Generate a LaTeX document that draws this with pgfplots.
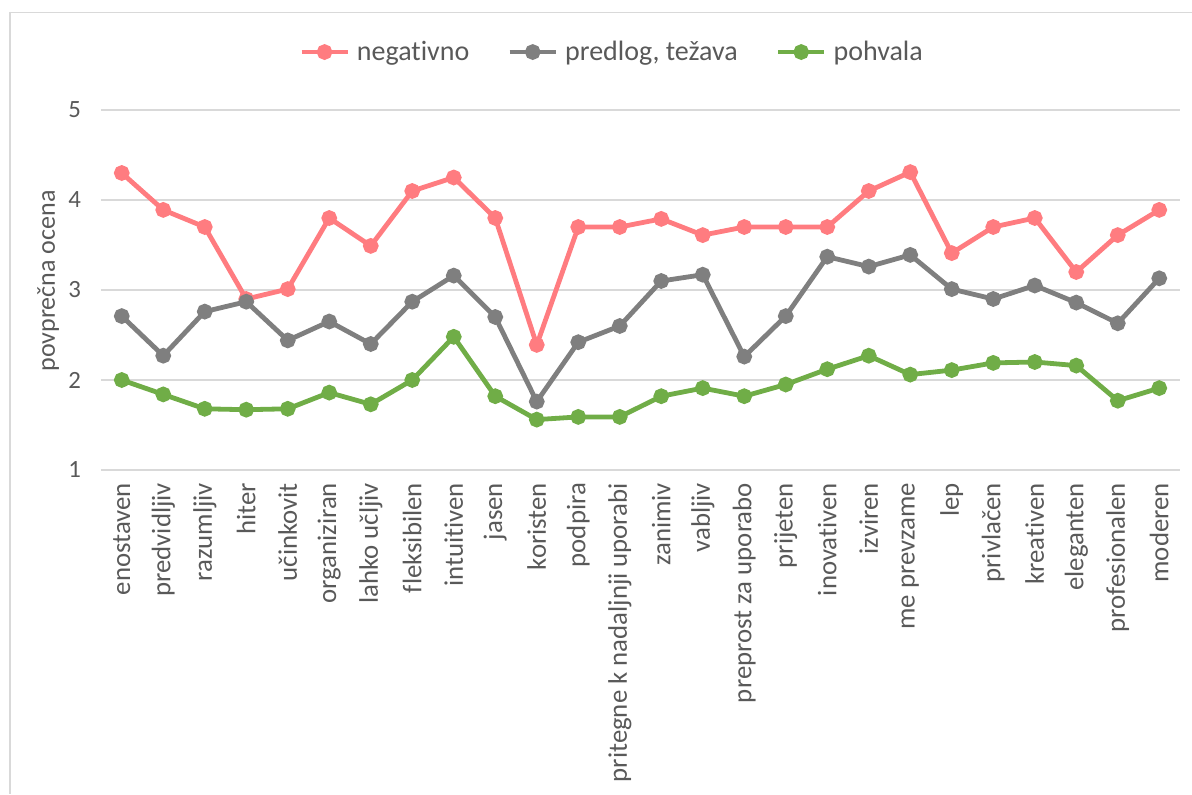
\documentclass[border=0pt]{standalone}
\usepackage{pgfplots}
\pgfplotsset{compat=1.18}
\usepackage{pgfplotstable}
\usepackage{fontspec}
\setmainfont{Carlito}[Ligatures={NoCommon}]
\definecolor{neg}{HTML}{FF7C80}
\definecolor{pred}{HTML}{7F7F7F}
\definecolor{poh}{HTML}{70AD47}
\definecolor{txt}{HTML}{595959}
\definecolor{grd}{HTML}{D9D9D9}
\pgfplotstableread{
idx neg pred poh
0 4.30 2.71 2.00
1 3.89 2.27 1.84
2 3.70 2.76 1.68
3 2.90 2.87 1.67
4 3.01 2.44 1.68
5 3.80 2.65 1.86
6 3.49 2.40 1.73
7 4.10 2.87 2.00
8 4.25 3.16 2.48
9 3.80 2.70 1.82
10 2.39 1.76 1.56
11 3.70 2.42 1.59
12 3.70 2.60 1.59
13 3.79 3.10 1.82
14 3.61 3.17 1.91
15 3.70 2.26 1.82
16 3.70 2.71 1.95
17 3.70 3.37 2.12
18 4.10 3.26 2.27
19 4.31 3.39 2.06
20 3.41 3.01 2.11
21 3.70 2.90 2.19
22 3.80 3.05 2.20
23 3.20 2.86 2.16
24 3.61 2.63 1.77
25 3.89 3.13 1.91
}\datatable
\begin{document}
\begin{tikzpicture}[x=0.5pt,y=0.5pt]
\path[use as bounding box] (0,0) rectangle (1192,794);
\draw[grd, line width=0.75pt] (9,781.5) -- (1192,781.5);
\draw[grd, line width=0.75pt] (10,782) -- (10,0);
\begin{axis}[
  at={(50.5pt,162pt)}, anchor=south west,
  scale only axis, width=539.5pt, height=180pt,
  xmin=-0.5, xmax=25.5, ymin=1, ymax=5,
  xtick={0,...,25},
  xticklabels={enostaven,predvidljiv,razumljiv,hiter,učinkovit,organiziran,lahko učljiv,fleksibilen,intuitiven,jasen,koristen,podpira,pritegne k nadaljnji uporabi,zanimiv,vabljiv,preprost za uporabo,prijeten,inovativen,izviren,me prevzame,lep,privlačen,kreativen,eleganten,profesionalen,moderen},
  ytick={1,2,3,4,5},
  ymajorgrids,
  grid style={grd, line width=0.75pt},
  axis line style={draw=none},
  tick style={draw=none},
  ticklabel style={font=\fontsize{12.4}{14}\selectfont, text=txt},
  /pgf/number format/assume math mode=true,
  xticklabel style={rotate=90, anchor=east, font=\fontsize{13.4}{15}\selectfont},
  xticklabel shift=3pt,
  yticklabel shift=6.5pt,
  ylabel={povprečna ocena},
  ylabel style={at={(axis description cs:-0.049,0.525)}, anchor=center, font=\fontsize{13}{15}\selectfont, text=txt},
  clip=false,
  legend columns=3,
  legend style={at={(0.4745,1.161)}, anchor=center, draw=none, fill=none,
    font=\fontsize{14}{16}\selectfont, text=txt,
    /tikz/every even column/.append style={column sep=17pt},
    /tikz/every odd column/.append style={column sep=1.5pt},
    inner sep=0pt},
  legend image code/.code={\draw[mark repeat=2,mark phase=2,#1] plot coordinates {(0pt,0pt)(11.5pt,0pt)(23pt,0pt)};},
  every axis plot/.append style={line width=2.4pt, mark=*, mark size=2.7pt, mark options={solid}},
]
\addplot[neg] table[x=idx,y=neg]{\datatable};
\addlegendentry{negativno}
\addplot[pred] table[x=idx,y=pred]{\datatable};
\addlegendentry{predlog, težava}
\addplot[poh] table[x=idx,y=poh]{\datatable};
\addlegendentry{pohvala}
\end{axis}
\end{tikzpicture}
\end{document}
